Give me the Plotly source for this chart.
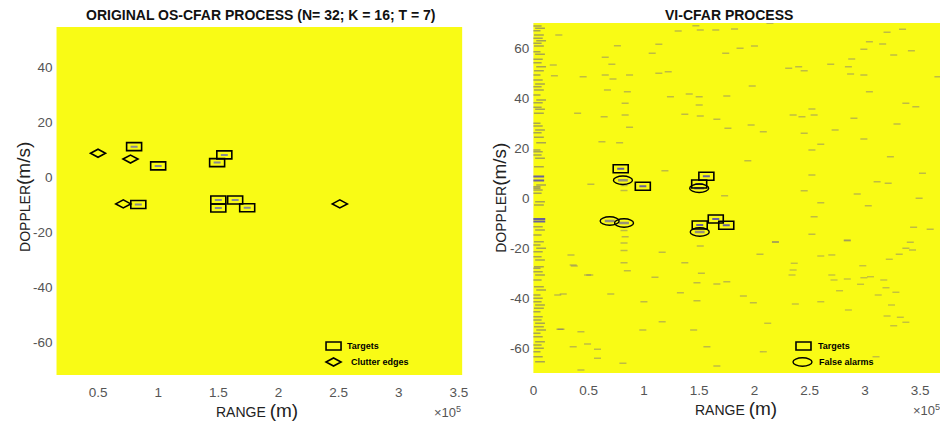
import plotly.graph_objects as go

# ---------------- data ----------------
# Left panel: OS-CFAR detections (range in m, doppler in m/s)
LEFT_TARGET_RANGE = [0.80e5, 1.00e5, 1.55e5, 1.49e5, 0.835e5, 1.50e5, 1.50e5, 1.64e5, 1.74e5]
LEFT_TARGET_DOPPLER = [11.0, 4.0, 8.0, 5.2, -10.0, -8.4, -11.3, -8.4, -11.2]
LEFT_CLUTTER_RANGE = [0.50e5, 0.77e5, 0.71e5, 2.51e5]
LEFT_CLUTTER_DOPPLER = [8.6, 6.5, -9.8, -9.8]

# Right panel: VI-CFAR detections
RIGHT_TARGET_RANGE = [0.79e5, 0.99e5, 1.565e5, 1.50e5, 1.505e5, 1.65e5, 1.745e5]
RIGHT_TARGET_DOPPLER = [11.7, 4.7, 8.7, 5.6, -10.8, -8.4, -10.9]
RIGHT_FA_RANGE = [0.81e5, 1.50e5, 0.69e5, 0.82e5, 1.505e5]
RIGHT_FA_DOPPLER = [7.1, 3.9, -9.2, -10.0, -13.6]

# Right panel: residual detection pixels (range in 1e5 m)
NOISE_RANGE = [1.31, 1.51, 1.65, 1.82, 1.47, 0.23, 1.135, 0.76, 1.87, 2.00, 1.74, 1.075, 0.65, 0.71,
               0.18, 0.19, 0.45, 0.65, 0.72, 0.87, 1.135, 1.22, 0.67, 0.85, 1.24, 1.41, 1.50, 1.75,
               1.98, 0.83, 1.50, 0.40, 0.64, 0.83, 1.37, 1.51, 1.66, 0.87, 1.76, 1.97, 2.08, 0.62,
               0.78, 2.31, 2.40, 2.45, 2.69, 2.88, 2.85, 2.87, 2.99, 2.99, 3.04, 3.16, 3.20, 3.34,
               3.42, 3.26, 3.66, 3.04, 3.37, 3.46, 2.52, 2.35, 2.43, 2.54, 2.90, 3.29, 2.73, 2.45,
               2.99, 2.60, 2.14,
               1.51, 2.19, 2.84, 3.41, 3.43, 3.37, 0.34, 1.165, 2.05, 2.60, 2.70, 3.31, 3.22, 0.36,
               0.82, 1.37, 2.36, 2.98, 0.85, 1.52, 2.35, 0.51, 1.10, 2.34, 2.70, 2.99, 3.05, 1.48,
               1.66, 1.75, 2.84, 3.17, 3.19, 2.72, 2.96, 0.27, 0.70, 1.33, 1.90, 2.77, 3.12, 3.28,
               1.00, 1.48, 1.99, 2.37, 2.60, 3.24, 1.165, 2.12, 2.85, 3.20, 3.32, 3.26, 3.37, 0.25,
               0.43, 0.99, 1.45, 0.49, 0.36, 0.58, 1.57, 2.08, 0.58, 0.81, 1.66, 0.43, 3.10, 0.22,
               0.37, 0.49, 0.24,
               2.52, 3.23, 1.94, 1.19, 0.52, 2.52, 3.52, 3.11, 3.21, 2.45, 2.93, 3.49, 2.60, 3.03,
               1.73, 2.54, 3.44, 3.59, 2.52, 2.84, 2.19,
               0.82, 0.82, 0.82, 0.83, 0.82, 0.82]
NOISE_DOPPLER = [66.8, 67.2, 67.2, 67.6, 68.9, 65.2, 61.5, 60.9, 59.9, 60.8, 57.9, 57.9, 56.3, 53.5,
                 53.2, 48.9, 48.5, 49.2, 47.6, 49.2, 49.9, 50.5, 43.2, 42.5, 40.5, 41.6, 40.5, 40.8,
                 44.8, 37.9, 37.2, 33.9, 32.5, 33.2, 33.5, 32.8, 31.5, 28.3, 27.9, 29.2, 26.5, 22.5,
                 22.1, 51.9, 52.5, 50.9, 53.5, 55.6, 52.5, 49.6, 49.2, 59.5, 62.5, 61.6, 66.3, 67.5,
                 58.9, 57.2, 48.5, 42.5, 37.9, 36.5, 35.6, 33.2, 32.5, 33.2, 31.9, 29.6, 27.2, 25.9,
                 23.6, 21.5, 69.9,
                 -19.2, -17.7, -17.1, -17.7, -20.8, -20.1, -22.8, -21.7, -22.5, -23.2, -22.8, -22.5,
                 -24.5, -26.8, -25.9, -25.9, -26.1, -27.1, -29.1, -30.1, -28.8, -30.8, -31.7, -30.8,
                 -30.8, -31.9, -31.5, -33.9, -34.4, -33.5, -32.4, -32.8, -35.9, -32.8, -34.5, -38.4,
                 -38.4, -37.9, -39.2, -37.1, -38.8, -37.7, -41.5, -41.1, -41.9, -42.4, -41.5, -42.8,
                 -49.5, -50.1, -44.8, -47.2, -47.7, -51.1, -49.7, -52.5, -53.5, -52.8, -52.8, -58.4,
                 -59.5, -60.5, -59.5, -61.5, -64.1, -66.1, -67.2, -68.8, -63.5, -38.8, -27.2, -30.8,
                 -52.5,
                 19.2, 16.5, 14.9, 10.9, 5.5, 9.2, 9.9, 6.5, 5.9, 2.9, 1.6, -0.1, -1.9, -3.1,
                 0.9, -7.5, -11.7, -12.5, -14.5, -16.8, -17.5,
                 5.0, 3.0, -13.0, -15.5, -18.0, -21.0]

# Dense column of detections at the smallest ranges (range in 1e5 m)
STRIP_RANGE = [0.03, 0.06, 0.02, 0.05, 0.04, 0.07, 0.03, 0.05, 0.02, 0.06, 0.04, 0.03, 0.07, 0.05,
               0.02, 0.04, 0.06, 0.03, 0.05, 0.02, 0.07, 0.04, 0.03, 0.06, 0.05, 0.02, 0.04, 0.06,
               0.03, 0.05, 0.07, 0.02, 0.04, 0.03, 0.06, 0.05, 0.02, 0.04, 0.03, 0.06, 0.05, 0.07,
               0.02, 0.04, 0.06, 0.03, 0.05, 0.02, 0.07, 0.04, 0.03, 0.06, 0.05, 0.02, 0.04, 0.06,
               0.03, 0.05, 0.07, 0.02, 0.04, 0.03, 0.06, 0.05, 0.02, 0.04, 0.03, 0.06, 0.05, 0.07,
               0.02, 0.04, 0.06, 0.03, 0.05, 0.02, 0.04, 0.06]
STRIP_DOPPLER = [68.8, 67.9, 66.9, 65.2, 63.9, 62.9, 61.9, 60.8, 58.5, 57.5, 55.5, 54.1, 52.5, 50.9,
                 49.2, 47.2, 45.6, 44.5, 43.2, 41.2, 39.2, 38.1, 36.3, 35.5, 33.9, 29.9, 28.8, 27.2,
                 26.1, 24.3, 22.1, 19.2, 18.5, 17.2, 15.9, 12.5, 4.5, 3.2, 1.9, -1.5, -2.8, 5.2,
                 3.9, -11.5, -12.8, -14.8, -17.5, -18.8, -20.1, -21.5, -23.5, -24.8, -27.5, -28.1,
                 -29.5, -30.8, -32.8, -35.5, -36.8, -38.8, -40.1, -41.5, -42.8, -44.1, -45.5, -47.5,
                 -48.8, -50.1, -51.5, -52.8, -54.1, -55.5, -57.5, -58.8, -60.1, -61.5, -63.5, -65.5]
STRIP_BLUE_RANGE = [0.04, 0.04, 0.05, 0.05]
STRIP_BLUE_DOPPLER = [7.0, 8.6, -8.4, -9.4]

LEFT_XTICKS = [0.5, 1, 1.5, 2, 2.5, 3, 3.5]
RIGHT_XTICKS = [0, 0.5, 1, 1.5, 2, 2.5, 3, 3.5]
LEFT_YTICKS = [-60, -40, -20, 0, 20, 40]
RIGHT_YTICKS = [-60, -40, -20, 0, 20, 40, 60]

TITLE_LEFT = "ORIGINAL OS-CFAR PROCESS (N= 32; K = 16; T = 7)"
TITLE_RIGHT = "VI-CFAR PROCESS"

# ---------------- style ----------------
YEL = "#F9FB15"
FONT = "Liberation Sans, Arial, sans-serif"
TICKC = "#555555"
NOISEC = "rgba(95,85,145,0.38)"
BLUEC = "rgba(70,60,190,0.8)"

# the page body adds an 8px offset; figure is sized so it fills the window exactly
OFF = 8
W, H = 948 - OFF, 426 - OFF

def px(xp):
    return (xp - OFF) / W

def py(yp):
    return 1 - (yp - OFF) / H

L_DOM_X = [px(53), px(463)]
L_DOM_Y = [py(375), py(27)]
R_DOM_X = [px(535), px(947)]
R_DOM_Y = [py(373), py(23)]

fig = go.Figure()

def dash_trace(xs, ys, xa, ya, color, size, width=1.4):
    return go.Scatter(x=xs, y=ys, xaxis=xa, yaxis=ya, mode="markers", hoverinfo="skip",
                      showlegend=False,
                      marker=dict(symbol="line-ew", size=size, color=color,
                                  line=dict(color=color, width=width)))

# right panel map pixels
fig.add_trace(dash_trace([v * 1e5 for v in NOISE_RANGE], NOISE_DOPPLER, "x2", "y2", NOISEC, 5, 1.3))
fig.add_trace(dash_trace([v * 1e5 for v in STRIP_RANGE], STRIP_DOPPLER, "x2", "y2",
                         "rgba(90,80,140,0.5)", 7, 1.3))
fig.add_trace(dash_trace([v * 1e5 for v in STRIP_BLUE_RANGE], STRIP_BLUE_DOPPLER, "x2", "y2",
                         BLUEC, 9, 2))
fig.add_trace(dash_trace(RIGHT_TARGET_RANGE, RIGHT_TARGET_DOPPLER, "x2", "y2", BLUEC, 5, 2))
fig.add_trace(dash_trace(RIGHT_FA_RANGE, RIGHT_FA_DOPPLER, "x2", "y2", "rgba(110,100,160,0.7)", 7, 2.5))
# left panel target pixels
fig.add_trace(dash_trace(LEFT_TARGET_RANGE, LEFT_TARGET_DOPPLER, "x", "y", "rgba(90,90,200,0.7)", 5, 2))

shapes = []

def rect(xv, yv, xref, yref):
    return dict(type="rect", xref=xref, yref=yref, xsizemode="pixel", ysizemode="pixel",
                xanchor=xv, yanchor=yv, x0=-7.5, x1=7.5, y0=-4, y1=4,
                line=dict(color="black", width=1.6), fillcolor="rgba(0,0,0,0)")

def diamond(xv, yv, xref, yref):
    return dict(type="path", xref=xref, yref=yref, xsizemode="pixel", ysizemode="pixel",
                xanchor=xv, yanchor=yv, path="M -7.5 0 L 0 4 L 7.5 0 L 0 -4 Z",
                line=dict(color="black", width=1.6), fillcolor="rgba(0,0,0,0)")

def ellipse(xv, yv, xref, yref):
    return dict(type="circle", xref=xref, yref=yref, xsizemode="pixel", ysizemode="pixel",
                xanchor=xv, yanchor=yv, x0=-9.5, x1=9.5, y0=-4.2, y1=4.2,
                line=dict(color="black", width=1.4), fillcolor="rgba(0,0,0,0)")

for xv, yv in zip(LEFT_TARGET_RANGE, LEFT_TARGET_DOPPLER):
    shapes.append(rect(xv, yv, "x", "y"))
for xv, yv in zip(LEFT_CLUTTER_RANGE, LEFT_CLUTTER_DOPPLER):
    shapes.append(diamond(xv, yv, "x", "y"))
for xv, yv in zip(RIGHT_TARGET_RANGE, RIGHT_TARGET_DOPPLER):
    shapes.append(rect(xv, yv, "x2", "y2"))
for xv, yv in zip(RIGHT_FA_RANGE, RIGHT_FA_DOPPLER):
    shapes.append(ellipse(xv, yv, "x2", "y2"))

# legend icons (paper coords)
shapes.append(rect(px(333), py(346), "paper", "paper"))
shapes.append(diamond(px(333), py(362), "paper", "paper"))
shapes.append(rect(px(808), py(346), "paper", "paper"))
shapes.append(ellipse(px(807), py(362), "paper", "paper"))

ann = []

def text(xp, yp, s, size, color="black", xanchor="left", bold=False, angle=0):
    ann.append(dict(x=px(xp), y=py(yp), xref="paper", yref="paper",
                    text=("<b>%s</b>" % s) if bold else s,
                    showarrow=False, xanchor=xanchor, yanchor="middle", textangle=angle,
                    font=dict(family=FONT, size=size, color=color)))

text(345, 346, "Targets", 9, bold=True)
text(349, 362, "Clutter edges", 9, bold=True)
text(821, 346, "Targets", 9, bold=True)
text(822, 362, "False alarms", 9, bold=True)

# titles
text(259, 15, TITLE_LEFT, 14, color="#111111", xanchor="center", bold=True)
text(733, 15, TITLE_RIGHT, 14, color="#111111", xanchor="center", bold=True)

# axis titles
range_lbl = "RANGE <span style='font-size:19px'>(m)</span>"
dop_lbl = "DOPPLER<span style='font-size:19px'>(m/s)</span>"
text(256, 410, range_lbl, 14, color="#222222", xanchor="center")
text(740, 408, range_lbl, 14, color="#222222", xanchor="center")
text(19, 197, dop_lbl, 14, color="#222222", xanchor="center", angle=-90)
text(500, 198, dop_lbl, 14, color="#222222", xanchor="center", angle=-90)

# exponent labels
text(464, 412, "×10<sup>5</sup>", 13, color=TICKC, xanchor="right")
text(948, 410, "×10<sup>5</sup>", 13, color=TICKC, xanchor="right")

axis_common = dict(showgrid=False, zeroline=False, showline=False, ticks="",
                   tickfont=dict(family=FONT, size=13.5, color=TICKC))

fig.update_layout(
    width=W, height=H,
    margin=dict(l=0, r=0, t=0, b=0),
    paper_bgcolor="white",
    plot_bgcolor=YEL,
    showlegend=False,
    shapes=shapes,
    annotations=ann,
    xaxis=dict(domain=L_DOM_X, range=[0.155e5, 3.527e5], anchor="y",
               tickvals=[v * 1e5 for v in LEFT_XTICKS], ticktext=[("%g" % v) for v in LEFT_XTICKS],
               ticklabelstandoff=7, **axis_common),
    yaxis=dict(domain=L_DOM_Y, range=[-72, 54.5], anchor="x",
               tickvals=LEFT_YTICKS, ticktext=[str(v) for v in LEFT_YTICKS],
               ticklabelstandoff=3, **axis_common),
    xaxis2=dict(domain=R_DOM_X, range=[0, 3.688e5], anchor="y2",
                tickvals=[v * 1e5 for v in RIGHT_XTICKS], ticktext=[("%g" % v) for v in RIGHT_XTICKS],
                ticklabelstandoff=7, **axis_common),
    yaxis2=dict(domain=R_DOM_Y, range=[-70, 70], anchor="x2",
                tickvals=RIGHT_YTICKS, ticktext=[str(v) for v in RIGHT_YTICKS],
                ticklabelstandoff=3, **axis_common),
)

fig.write_html("out.html")
